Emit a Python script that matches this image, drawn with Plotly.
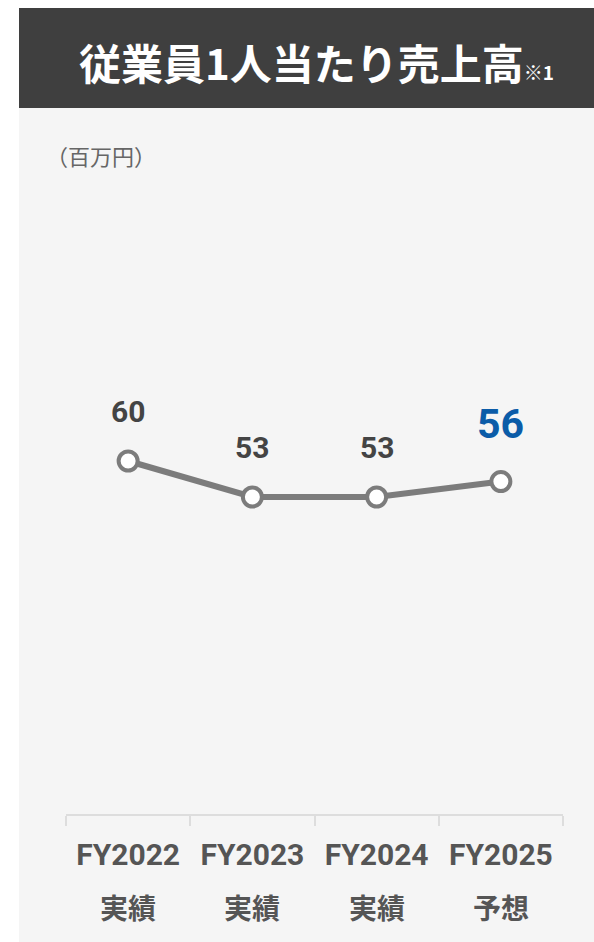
import plotly.graph_objects as go

# ---- data ----
years = ["FY2022", "FY2023", "FY2024", "FY2025"]
kinds = ["実績", "実績", "実績", "予想"]
values = [60, 53, 53, 56]
labels = ["60", "53", "53", "56"]
highlight = [False, False, False, True]

title_text = "従業員1人当たり売上高"
title_note = "※1"
unit_text = "（百万円）"

# ---- layout geometry (pixels) ----
W, H = 594, 942
L, R, T, B = 66, 31, 180, 128
PW = W - L - R
PH = H - T - B

def px_x(x):
    return (x - L) / PW

def px_y(y):
    return (H - B - y) / PH

JP = "Noto Sans CJK JP, Roboto, sans-serif"
NUM = "Roboto, Noto Sans CJK JP, sans-serif"

fig = go.Figure()
fig.add_trace(go.Scatter(
    x=years, y=values, mode="lines+markers",
    line=dict(color="#7c7c7c", width=6),
    marker=dict(size=19, color="white", line=dict(color="#7c7c7c", width=4)),
    hoverinfo="skip", showlegend=False,
))

annotations = []
for yr, v, lab, hl in zip(years, values, labels, highlight):
    annotations.append(dict(
        x=yr, y=v, xref="x", yref="y", text=f"<b>{lab}</b>", showarrow=False,
        yanchor="middle", yshift=58 if hl else 50,
        font=dict(family=NUM, size=41 if hl else 30, color="#0b5ca8" if hl else "#444444"),
    ))
for yr, k in zip(years, kinds):
    annotations.append(dict(
        x=yr, y=px_y(907), xref="x", yref="paper", text=f"<b>{k}</b>", showarrow=False,
        yanchor="middle", font=dict(family=JP, size=28, color="#555555"),
    ))

annotations.append(dict(
    x=px_x(316), y=px_y(61), xref="paper", yref="paper", showarrow=False,
    xanchor="center", yanchor="middle",
    text=f"<b>{title_text}</b><span style='font-size:19px'><b>{title_note}</b></span>",
    font=dict(family=JP, size=42, color="white"),
))
annotations.append(dict(
    x=px_x(44), y=px_y(155), xref="paper", yref="paper", showarrow=False,
    xanchor="left", yanchor="middle", text=unit_text,
    font=dict(family=JP, size=22, color="#666666"),
))

shapes = [
    dict(type="rect", xref="paper", yref="paper", layer="below",
         x0=px_x(19), x1=px_x(600), y0=px_y(950), y1=px_y(108),
         fillcolor="#f5f5f5", line=dict(width=0)),
    dict(type="rect", xref="paper", yref="paper", layer="below",
         x0=px_x(19), x1=px_x(600), y0=px_y(108), y1=px_y(8),
         fillcolor="#3f3f3f", line=dict(width=0)),
]

span_per_px = 7 / 36.0
y_bottom = 60 - (H - B - 461) * span_per_px
y_top = y_bottom + PH * span_per_px

fig.update_layout(
    width=W, height=H,
    margin=dict(l=L, r=R, t=T, b=B, pad=0),
    paper_bgcolor="white", plot_bgcolor="rgba(0,0,0,0)",
    xaxis=dict(
        type="category", range=[-0.5, 3.5], showgrid=False, zeroline=False,
        showline=True, linecolor="#dddddd", linewidth=2,
        ticks="outside", ticklen=10, tickwidth=2, tickcolor="#dddddd",
        tickson="boundaries",
        tickvals=years, ticktext=[f"<b>{y}</b>" for y in years],
        tickfont=dict(family=NUM, size=30, color="#555555"),
        ticklabelstandoff=13,
        fixedrange=True,
    ),
    yaxis=dict(range=[y_bottom, y_top], visible=False, fixedrange=True),
    annotations=annotations, shapes=shapes,
)

fig.write_html(
    "out.html",
    config={"displayModeBar": False},
    post_script="document.body.style.margin='0';document.body.style.padding='0';document.body.style.overflow='hidden';",
)
